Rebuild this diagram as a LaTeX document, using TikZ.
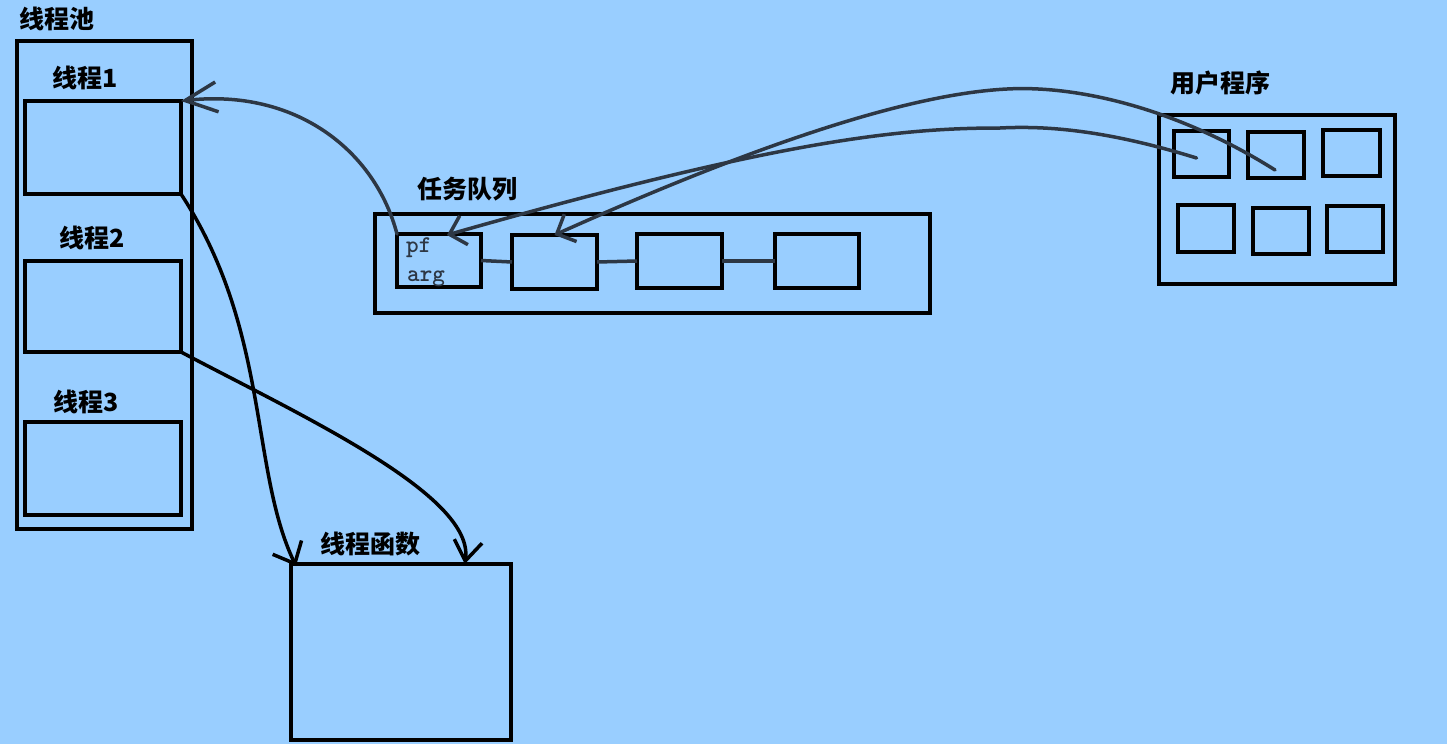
\documentclass[tikz,border=0pt]{standalone}
\usepackage{fontspec}
\newfontfamily\cjk{Noto Sans CJK SC}
\usetikzlibrary{arrows.meta,calc}
\definecolor{bgblue}{RGB}{153,206,255}
\definecolor{slate}{RGB}{45,55,68}
\tikzset{
  box/.style={draw=black, line width=4pt, outer sep=0pt, inner sep=0pt},
  lbl/.style={font=\cjk\bfseries\fontsize{25}{28}\selectfont, text=black, inner sep=0pt},
  mono/.style={font=\ttfamily\bfseries\fontsize{24}{26}\selectfont, text=slate, inner sep=0pt},
  link/.style={draw=slate, line width=3.5pt},
  conn/.style={line width=3.5pt, line cap=round, line join=round},
}
\begin{document}
\begin{tikzpicture}[x=1pt,y=-1pt]
\fill[bgblue] (0,0) rectangle (1447,744);
\useasboundingbox (0,0) rectangle (1447,744);

% thread pool
\node[lbl] (lpool) at (57,19) {线程池};
\node[box, minimum width=175, minimum height=488] (pool) at (104.5,285) {};
\node[lbl] (l1) at (85,78) {线程1};
\node[box, minimum width=156, minimum height=93] (t1) at (103,147.5) {};
\node[lbl] (l2) at (92,238) {线程2};
\node[box, minimum width=156, minimum height=91] (t2) at (103,306.5) {};
\node[lbl] (l3) at (86,402) {线程3};
\node[box, minimum width=156, minimum height=93] (t3) at (103,468.5) {};

% task queue
\node[lbl] (lq) at (467,189) {任务队列};
\node[box, minimum width=555, minimum height=99] (queue) at (652.5,263.5) {};
\node[box, minimum width=84, minimum height=53] (q1) at (439,260.5) {};
\node[box, minimum width=85, minimum height=54] (q2) at (554.5,262) {};
\node[box, minimum width=85, minimum height=54] (q3) at (679.5,261) {};
\node[box, minimum width=84, minimum height=54] (q4) at (817,261) {};
\node[mono, anchor=base west] (pf) at (406,252) {pf};
\node[mono, anchor=base west] (arg) at (407,281) {arg};
\draw[link] (q1.east) -- (q2.west);
\draw[link] (q2.east) -- (q3.west);
\draw[link] (q3.east) -- (q4.west);

% user program
\node[lbl] (lu) at (1220,83) {用户程序};
\node[box, minimum width=236, minimum height=169] (user) at (1277,199.5) {};
\node[box, minimum width=55, minimum height=46] (u1) at (1201.5,154) {};
\node[box, minimum width=56, minimum height=46] (u2) at (1276,155) {};
\node[box, minimum width=57, minimum height=46] (u3) at (1351.5,153) {};
\node[box, minimum width=56, minimum height=47] (u4) at (1206,228.5) {};
\node[box, minimum width=56, minimum height=46] (u5) at (1281,231) {};
\node[box, minimum width=56, minimum height=46] (u6) at (1355,229) {};

% thread function
\node[lbl] (lf) at (370,544) {线程函数};
\node[box, minimum width=220, minimum height=176] (tf) at (401,652) {};

% connectors
\coordinate (pftip) at ($(q1.north)+(8,1)$);
\coordinate (tfr) at ($(tf.north west)!0.79!(tf.north east)$);
\coordinate (u2end) at ($(u2.center)+(-1,15)$);
\coordinate (u1end) at ($(u1.center)+(-5,4)$);
\coordinate (lowpeak) at (1000,128);
\coordinate (highpeak) at (1007,89);

\draw[conn, draw=slate, -{Straight Barb[length=32pt,width=30pt]}]
  (q1.north west) .. controls (375,150) and (295,88) .. (t1.north east);
\draw[conn, draw=slate, -{Straight Barb[length=15pt,width=30pt]}]
  (u1end) .. controls (1100,128) and (1040,126) .. (lowpeak)
  .. controls (900,128) and (780,140) .. (pftip);
\draw[conn, draw=slate, -{Straight Barb[length=15pt,width=30pt]}]
  (u2end) .. controls (1180,110) and (1080,85) .. (highpeak)
  .. controls (930,93) and (800,125) .. (q2.north);
\draw[conn, draw=black, -{Straight Barb[length=18pt,width=32pt]}]
  (t1.south east) .. controls (270,330) and (250,470) .. ($(tf.north west)+(5,2)$);
\draw[conn, draw=black, -{Straight Barb[length=20pt,width=28pt]}]
  (t2.south east) .. controls (300,415) and (475,495) .. (tfr);
\end{tikzpicture}
\end{document}
